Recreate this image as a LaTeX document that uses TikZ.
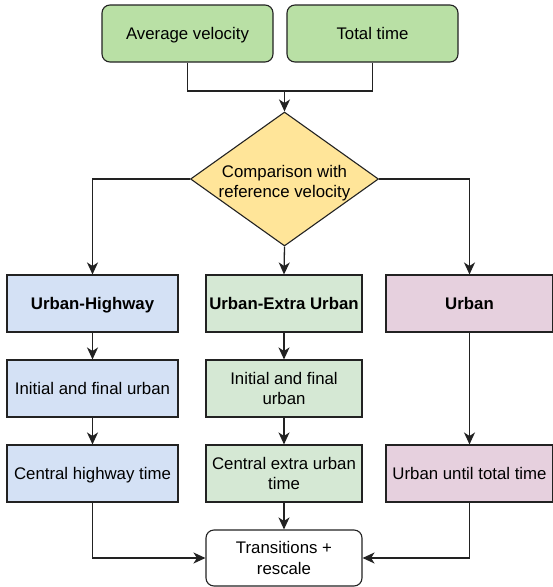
\documentclass[tikz,border=0pt]{standalone}
\usepackage{fontspec}
\setmainfont{Liberation Sans}
\usetikzlibrary{arrows.meta,shapes.geometric}

\definecolor{inputgreen}{HTML}{B9E0A5}
\definecolor{hwblue}{HTML}{D4E1F5}
\definecolor{eugreen}{HTML}{D5E8D4}
\definecolor{urbpink}{HTML}{E6D0DE}
\definecolor{decyellow}{HTML}{FFE599}
\definecolor{edge}{HTML}{222222}

\begin{document}
\begin{tikzpicture}[x=1pt,y=-1pt,
  every node/.style={font=\fontsize{16.8}{20.2}\selectfont, align=center, inner sep=0pt},
  box/.style={draw=edge, line width=1.1pt, minimum height=57pt},
  oneline/.style={text height=12pt, text depth=0pt},
  roundbox/.style={box, rounded corners=8pt},
  link/.style={draw=edge, line width=1.3pt},
  arrow/.style={link, -{Stealth[length=12pt,width=11pt,inset=3.5pt]}}
]
\useasboundingbox (0,0) rectangle (553,587);

% inputs
\node[roundbox, oneline, fill=inputgreen, minimum width=171pt] (avg) at (187.5,33.5) {Average velocity};
\node[roundbox, oneline, fill=inputgreen, minimum width=171pt] (tot) at (372.5,33.5) {Total time};

% decision
\node[draw=edge, line width=1.1pt, fill=decyellow, diamond, minimum width=188pt, minimum height=134pt] (dec) at (284.5,179) {};
\node (dectext) at (284.5,183) {Comparison with\\reference velocity};

% first row: driving cycle categories
\node[box, oneline, fill=hwblue, minimum width=171pt] (uh) at (92.5,303.5) {\textbf{Urban-Highway}};
\node[box, oneline, fill=eugreen, minimum width=156pt] (ue) at (284,303.5) {\textbf{Urban-Extra Urban}};
\node[box, oneline, fill=urbpink, minimum width=167pt] (ur) at (469.5,303.5) {\textbf{Urban}};

% second row
\node[box, oneline, fill=hwblue, minimum width=171pt] (uh2) at (92.5,388.5) {Initial and final urban};
\node[box, fill=eugreen, minimum width=156pt] (ue2) at (284,388.5) {Initial and final\\urban};

% third row
\node[box, oneline, fill=hwblue, minimum width=171pt] (uh3) at (92.5,473.5) {Central highway time};
\node[box, fill=eugreen, minimum width=156pt] (ue3) at (284,473.5) {Central extra urban\\time};
\node[box, oneline, fill=urbpink, minimum width=167pt] (ur3) at (469.5,473.5) {Urban until total time};

% output
\node[roundbox, fill=white, minimum width=156pt, minimum height=56pt] (tr) at (284,558) {Transitions +\\rescale};

% connectors
\coordinate (join) at (284.5,91);
\draw[link] (avg.south) |- (join);
\draw[link] (tot.south) |- (join);
\draw[arrow] (join) -- (dec.north);

\draw[arrow] (dec.west) -| (uh.north);
\draw[arrow] (dec.east) -| (ur.north);
\draw[arrow] (dec.south) -- (ue.north);

\draw[arrow] (uh) -- (uh2);
\draw[arrow] (uh2) -- (uh3);
\draw[arrow] (ue) -- (ue2);
\draw[arrow] (ue2) -- (ue3);
\draw[arrow] (ur) -- (ur3);

\draw[arrow] (ue3) -- (tr);
\draw[arrow] (uh3.south) |- (tr.west);
\draw[arrow] (ur3.south) |- (tr.east);
\end{tikzpicture}
\end{document}
